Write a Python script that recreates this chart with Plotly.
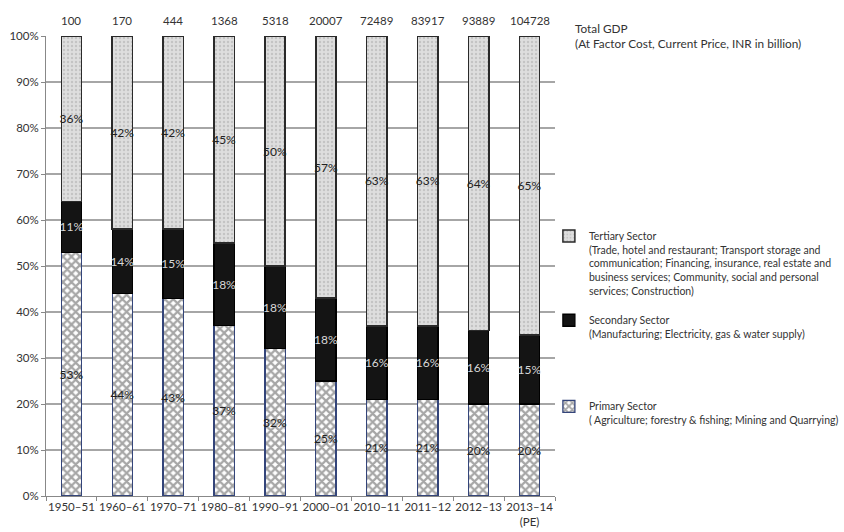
import plotly.graph_objects as go

# Years (fiscal periods) on the x axis
periods = ["1950–51", "1960–61", "1970–71", "1980–81", "1990–91",
           "2000–01", "2010–11", "2011–12", "2012–13", "2013–14<br>(PE)"]

# Total GDP at factor cost, current prices, INR billion
total_gdp = [100, 170, 444, 1368, 5318, 20007, 72489, 83917, 93889, 104728]

# Sector shares of GDP (%)
primary = [53, 44, 43, 37, 32, 25, 21, 21, 20, 20]
secondary = [11, 14, 15, 18, 18, 18, 16, 16, 16, 15]
tertiary = [36, 42, 42, 45, 50, 57, 63, 63, 64, 65]

FONT = "Lato"
TXT = "#333333"

fig = go.Figure()

fig.add_trace(go.Bar(
    x=periods, y=primary, name="Primary Sector<br>( Agriculture; forestry & fishing; Mining and Quarrying)",
    text=[f"{v}%" for v in primary], textposition="inside", insidetextanchor="middle",
    constraintext="none", cliponaxis=False,
    textfont=dict(color="#222222", size=12, family=FONT), textangle=0,
    marker=dict(color="white", line=dict(color="#34457a", width=1.3),
                pattern=dict(shape="x", bgcolor="white", fgcolor="#4d4d4d", size=6, solidity=0.6)),
    legend="legend3",
))
fig.add_trace(go.Bar(
    x=periods, y=secondary, name="Secondary Sector<br>(Manufacturing; Electricity, gas & water supply)",
    text=[f"{v}%" for v in secondary], textposition="inside", insidetextanchor="middle",
    constraintext="none", cliponaxis=False,
    textfont=dict(color="#d8d8d8", size=12, family=FONT), textangle=0,
    marker=dict(color="#141414", line=dict(color="#000000", width=1.3)),
    legend="legend2",
))
fig.add_trace(go.Bar(
    x=periods, y=tertiary,
    name=("Tertiary Sector<br>(Trade, hotel and restaurant; Transport storage and<br>"
          "communication; Financing, insurance, real estate and<br>"
          "business services; Community, social and personal<br>"
          "services; Construction)"),
    text=[f"{v}%" for v in tertiary], textposition="inside", insidetextanchor="middle",
    constraintext="none", cliponaxis=False,
    textfont=dict(color="#222222", size=12, family=FONT), textangle=0,
    marker=dict(color="#d9d9d9", line=dict(color="#2a2a2a", width=1.5),
                pattern=dict(shape=".", bgcolor="#dedede", fgcolor="#a9a9a9", size=4, solidity=0.3)),
    legend="legend",
))

# Total GDP figures along the top of each bar
for p, g in zip(periods, total_gdp):
    fig.add_annotation(x=p, y=1, xref="x", yref="paper", text=str(g), showarrow=False,
                       yanchor="middle", yshift=16, font=dict(size=11.5, color=TXT, family=FONT))

fig.add_annotation(x=1.035, y=1.037, xref="paper", yref="paper", xanchor="left", yanchor="top",
                   align="left", showarrow=False,
                   text="Total GDP<br>(At Factor Cost, Current Price, INR in billion)",
                   font=dict(size=11.8, color=TXT, family=FONT))

leg_common = dict(xref="paper", yref="paper", xanchor="left", yanchor="top",
                  bgcolor="rgba(0,0,0,0)", font=dict(size=10.5, color=TXT, family=FONT),
                  valign="top", itemwidth=30)

fig.update_layout(
    width=844, height=532,
    margin=dict(l=46, r=289, t=36, b=36, autoexpand=False),
    barmode="stack", bargap=0.6,
    plot_bgcolor="white", paper_bgcolor="white",
    font=dict(family=FONT, color=TXT, size=11.5),
    showlegend=True,
    legend=dict(x=0.988, y=0.594, **leg_common),
    legend2=dict(x=0.988, y=0.411, **leg_common),
    legend3=dict(x=0.988, y=0.224, **leg_common),
    xaxis=dict(type="category", tickson="boundaries", ticks="outside", ticklen=4, tickangle=0,
               tickcolor="#888888", showline=True, linecolor="#888888", linewidth=1,
               showgrid=False, tickfont=dict(size=11.5, color=TXT, family=FONT)),
    yaxis=dict(range=[0, 100], dtick=10, ticksuffix="%", ticks="outside", ticklen=4,
               tickcolor="#888888", showline=True, linecolor="#888888", linewidth=1,
               showgrid=True, gridcolor="#a6a6a6", gridwidth=1.5, zeroline=False,
               tickfont=dict(size=11.5, color=TXT, family=FONT)),
)

fig.write_html("out.html")
